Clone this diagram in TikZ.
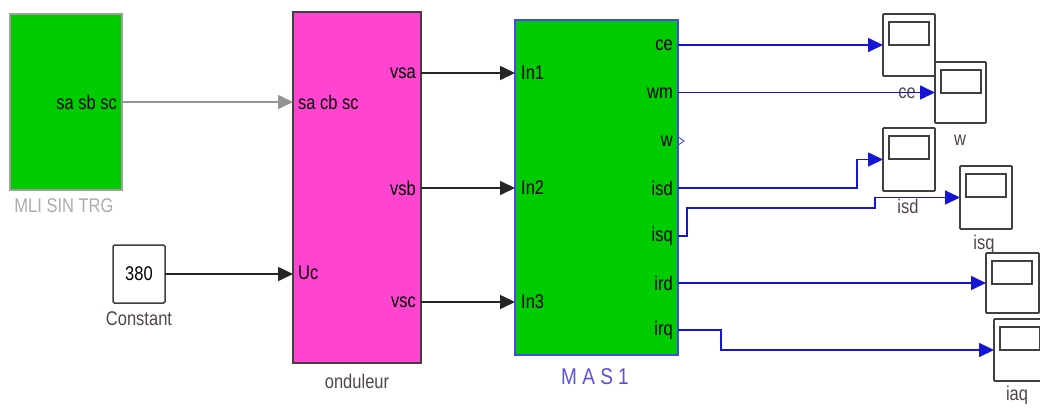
\documentclass[tikz,border=0pt]{standalone}
\usepackage{fontspec}
\setmainfont{Liberation Sans}
\usetikzlibrary{arrows.meta}
\definecolor{sgreen}{HTML}{00CC00}
\definecolor{smag}{HTML}{FF44D2}
\definecolor{sblue}{HTML}{1515D5}
\definecolor{bblue}{HTML}{4848F0}
\definecolor{lbl}{HTML}{4F4545}
\definecolor{masc}{HTML}{5A50DC}
\newcommand{\stx}[1]{\scalebox{1}[1.2]{#1}}
\begin{document}
\begin{tikzpicture}[x=1pt,y=-1pt,
  every node/.style={font=\fontsize{16.5}{18}\selectfont, inner sep=0pt},
  blockbox/.style={draw, line width=1.5pt, anchor=north west, outer sep=0pt},
  scopebox/.style={draw=black!75, line width=1.8pt, fill=white, anchor=north west, outer sep=0pt, rounded corners=0.8pt},
  screen/.style={draw=black!75, line width=1.8pt},
  plab/.style={text=black},
  slab/.style={text=lbl},
  bwire/.style={line width=1.6pt, draw=black!85, -{Triangle[length=15pt,width=14pt]}},
  gwire/.style={line width=1.6pt, draw=gray!85, -{Triangle[length=15pt,width=14pt]}},
  uwire/.style={line width=1.6pt, draw=sblue, -{Triangle[length=15pt,width=14pt]}}
]
\useasboundingbox (0,0) rectangle (1040,408);
\clip (0,0) rectangle (1040,408);

% ---- blocks ----
\node[blockbox, draw=gray!75, fill=sgreen, minimum width=112pt, minimum height=176pt] (mli) at (10,14) {};
\node[blockbox, draw=black!75, fill=smag, minimum width=128pt, minimum height=351pt] (ond) at (293,12) {};
\node[blockbox, draw=bblue, fill=sgreen, minimum width=163pt, minimum height=335pt] (mas) at (515,20) {};
\node[blockbox, draw=black!75, fill=white, rounded corners=1.5pt, minimum width=52pt, minimum height=58pt] (cst) at (113,245) {};

% ---- scopes ----
\node[scopebox, minimum width=52pt, minimum height=62pt] (sce) at (883,14) {};
\node[scopebox, minimum width=51pt, minimum height=61pt] (sw) at (935,62) {};
\node[scopebox, minimum width=52pt, minimum height=63pt] (sisd) at (883,128) {};
\node[scopebox, minimum width=52pt, minimum height=63pt] (sisq) at (960,166) {};
\node[scopebox, minimum width=53pt, minimum height=60pt] (sird) at (986,253) {};
\node[scopebox, minimum width=52pt, minimum height=62pt] (siaq) at (994,319) {};
\foreach \s in {sce,sw,sisd,sisq,sird,siaq}{
  \draw[screen] ([xshift=6pt,yshift=-8pt]\s.north west) rectangle ++(40,23);
}

% ---- block texts ----
\node[plab, anchor=east] (t-sasbsc) at (117,102) {\stx{sa sb sc}};
\node[text=gray!65, anchor=center] (l-mli) at (64,206) {\stx{MLI SIN TRG}};
\node[plab] (t-380) at (cst.center) {\stx{380}};
\node[slab] (l-cst) at (139,319) {\stx{Constant}};

\node[plab, anchor=west] (t-sacbsc) at (298,102) {\stx{sa cb sc}};
\node[plab, anchor=west] (t-uc) at (298,273) {\stx{Uc}};
\node[plab, anchor=east] (t-vsa) at (416,73) {\stx{vsa}};
\node[plab, anchor=east] (t-vsb) at (416,188) {\stx{vsb}};
\node[plab, anchor=east] (t-vsc) at (416,302) {\stx{vsc}};
\node[slab] (l-ond) at (357,381) {\stx{onduleur}};

\node[plab, anchor=west] (t-in1) at (521,73) {\stx{In1}};
\node[plab, anchor=west] (t-in2) at (521,188) {\stx{In2}};
\node[plab, anchor=west] (t-in3) at (521,302) {\stx{In3}};
\node[plab, anchor=east] (t-ce) at (673,45) {\stx{ce}};
\node[plab, anchor=east] (t-wm) at (673,93) {\stx{wm}};
\node[plab, anchor=east] (t-w) at (673,141) {\stx{w}};
\node[plab, anchor=east] (t-isd) at (673,188) {\stx{isd}};
\node[plab, anchor=east] (t-isq) at (673,236) {\stx{isq}};
\node[plab, anchor=east] (t-ird) at (673,283) {\stx{ird}};
\node[plab, anchor=east] (t-irq) at (673,330) {\stx{irq}};
\node[text=masc, font=\fontsize{19}{21}\selectfont] (l-mas) at (595,377) {\stx{M A S 1}};

% ---- scope labels ----
\node[slab] (l-ce) at (907,93) {\stx{ce}};
\node[slab] (l-w) at (960,140) {\stx{w}};
\node[slab] (l-isd) at (908,206) {\stx{isd}};
\node[slab] (l-isq) at (984,244) {\stx{isq}};
\node[slab] (l-iaq) at (1017,395) {\stx{iaq}};

% ---- ports ----
\coordinate (mli-o) at (122,102);
\coordinate (ond-i1) at (293,102);
\coordinate (ond-o1) at (421,73);
\coordinate (ond-o2) at (421,188);
\coordinate (ond-o3) at (421,302);
\coordinate (mas-i1) at (515,73);
\coordinate (mas-i2) at (515,188);
\coordinate (mas-i3) at (515,302);
\coordinate (mas-ce) at (678,45);
\coordinate (mas-wm) at (678,92.5);
\coordinate (mas-w) at (679,141);
\coordinate (mas-isd) at (678,188);
\coordinate (mas-isq) at (678,236);
\coordinate (mas-ird) at (678,283);
\coordinate (mas-irq) at (678,330);

% ---- connectors ----
\draw[gwire] (mli-o) -- (ond-i1);
\draw[bwire] (cst.east) -- (cst.east -| ond.west);
\draw[bwire] (ond-o1) -- (mas-i1);
\draw[bwire] (ond-o2) -- (mas-i2);
\draw[bwire] (ond-o3) -- (mas-i3);

\draw[uwire] (mas-ce) -- (mas-ce -| sce.west);
\draw[uwire] (mas-wm) -- (mas-wm -| sw.west);
\draw[uwire] (mas-isd) -- (857,188) -- (857,159.5) -- (sisd.west);
\draw[uwire] (mas-isq) -- (687,236) -- (687,208) -- (875,208) -- (875,197.5) -- (sisq.west);
\draw[uwire] (mas-ird) -- (mas-ird -| sird.west);
\draw[uwire] (mas-irq) -- (721,330) -- (721,350) -- (siaq.west);
\draw[bblue, line width=0.9pt] ([yshift=3.5pt]mas-w) -- ++(5,3.5) -- ++(-5,3.5);
\end{tikzpicture}
\end{document}
